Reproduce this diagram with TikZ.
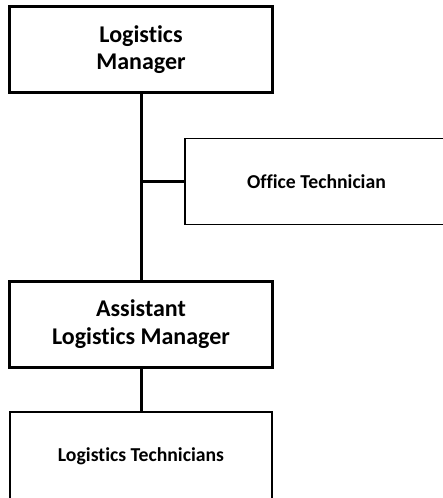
\documentclass[tikz,border=0pt]{standalone}
\usepackage{fontspec}
\setmainfont[Ligatures=NoCommon]{Carlito}
\usetikzlibrary{positioning}

\tikzset{
  mainbox/.style={draw, rectangle, line width=3pt, align=center, inner sep=0pt,
    minimum width=263pt, minimum height=86pt, font=\bfseries\fontsize{24}{27.5}\selectfont},
  subbox/.style={draw, rectangle, line width=1.8pt, align=center, inner sep=0pt},
  subtext/.style={font=\bfseries\fontsize{19.7}{23}\selectfont},
  link/.style={line width=3pt}
}

\begin{document}
\begin{tikzpicture}[x=1pt, y=1pt]
  \clip (0,0) rectangle (443,-498);
  \useasboundingbox (0,0) rectangle (443,-498);

  % Logistics Manager box
  \node[mainbox] (mgr) at (141,-49.5) {Logistics\\Manager};

  % Office Technician box
  \node[subbox, minimum width=270pt, minimum height=86pt] (office) at (320,-181.5) {};
  \node[subtext] (officetxt) at (316.5,-182) {Office Technician};

  % Assistant box
  \node[mainbox] (asst) at (141,-324) {Assistant\\Logistics Manager};

  % Logistics Technicians box
  \node[subbox, minimum width=262pt, minimum height=100pt] (techs) at (141,-462) {};
  \node[subtext] (techstxt) at (141,-456) {Logistics Technicians};

  % Connectors
  \draw[link] (mgr.south) -- (asst.north);
  \coordinate (branch) at (mgr.south |- office.west);
  \draw[link] (branch) -- (office.west);
  \draw[link] (asst.south) -- (techs.north);
\end{tikzpicture}
\end{document}
